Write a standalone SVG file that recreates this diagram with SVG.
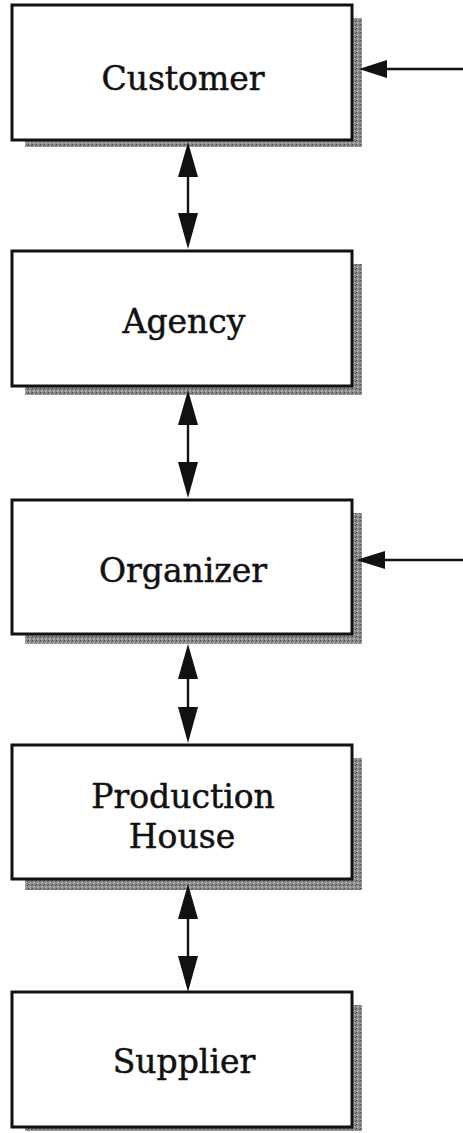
<svg xmlns="http://www.w3.org/2000/svg" width="463" height="1133" viewBox="0 0 463 1133">
<style>
.box{fill:#fff;stroke:#111;stroke-width:3}
.sh{fill:url(#stip)}
.lbl{font-family:"DejaVu Serif","Liberation Serif",serif;font-size:33px;fill:#111;stroke:#111;stroke-width:0.5;text-anchor:middle}
.ln{stroke:#111;stroke-width:2.4;fill:none}
</style>
<defs>
<pattern id="stip" width="4" height="4" patternUnits="userSpaceOnUse">
<rect width="4" height="4" fill="#8a8a8a"/>
<rect x="0" y="0" width="1" height="1" fill="#444"/>
<rect x="2" y="2" width="1" height="1" fill="#c8c8c8"/>
<rect x="3" y="1" width="1" height="1" fill="#555"/>
<rect x="1" y="3" width="1" height="1" fill="#bcbcbc"/>
</pattern>
</defs>
<g id="customer">
<path class="sh" d="M352,18 H362 V147 H25 V140 H352 Z"/>
<rect class="box" x="12" y="5" width="340" height="135"/>
<text class="lbl" x="183" y="90">Customer</text>
</g>
<g id="agency">
<path class="sh" d="M352,264 H362 V395 H25 V386 H352 Z"/>
<rect class="box" x="12" y="251" width="340" height="135"/>
<text class="lbl" x="184" y="333">Agency</text>
</g>
<g id="organizer">
<path class="sh" d="M352,513 H362 V644 H25 V634 H352 Z"/>
<rect class="box" x="12" y="500" width="340" height="134"/>
<text class="lbl" x="183" y="582">Organizer</text>
</g>
<g id="production-house">
<path class="sh" d="M352,758 H362 V890 H25 V879 H352 Z"/>
<rect class="box" x="12" y="745" width="340" height="134"/>
<text class="lbl" x="183" y="808">Production</text>
<text class="lbl" x="182" y="848">House</text>
</g>
<g id="supplier">
<path class="sh" d="M352,1005 H362 V1131 H25 V1127 H352 Z"/>
<rect class="box" x="12" y="992" width="340" height="135"/>
<text class="lbl" x="184" y="1073">Supplier</text>
</g>
<g id="connectors">
<line class="ln" x1="188" y1="170" x2="188" y2="218"/>
<path d="M188,142 L178,177 L198,177 Z" fill="#111"/>
<path d="M188,249 L178,213 L198,213 Z" fill="#111"/>
<line class="ln" x1="188" y1="420" x2="188" y2="466"/>
<path d="M188,390 L178,425 L198,425 Z" fill="#111"/>
<path d="M188,498 L178,462 L198,462 Z" fill="#111"/>
<line class="ln" x1="188" y1="672" x2="188" y2="712"/>
<path d="M188,644 L178,679 L198,679 Z" fill="#111"/>
<path d="M188,743 L178,707 L198,707 Z" fill="#111"/>
<line class="ln" x1="188" y1="915" x2="188" y2="960"/>
<path d="M188,884 L178,919 L198,919 Z" fill="#111"/>
<path d="M188,992 L178,956 L198,956 Z" fill="#111"/>
<line class="ln" x1="380" y1="69" x2="463" y2="69"/>
<path d="M359,69 L387,60 L387,78 Z" fill="#111"/>
<line class="ln" x1="380" y1="560" x2="463" y2="560"/>
<path d="M356,560 L385,551 L385,569 Z" fill="#111"/>
</g>
</svg>
